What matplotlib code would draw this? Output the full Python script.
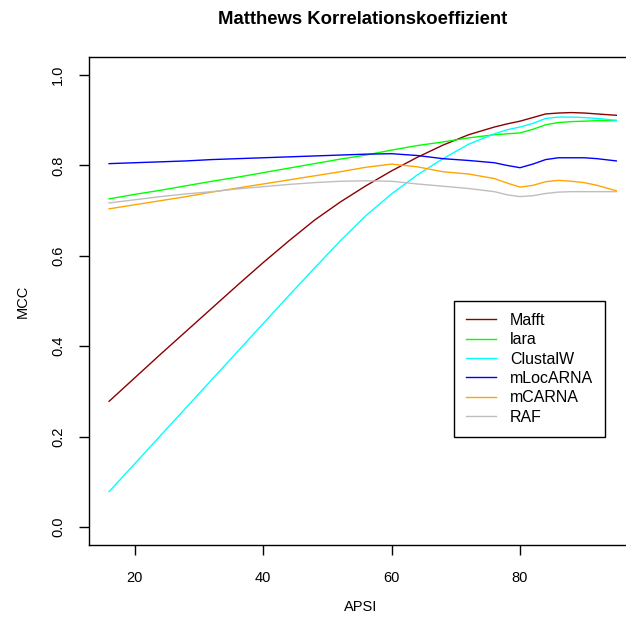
import matplotlib
matplotlib.use("Agg")
import matplotlib.pyplot as plt

# R-artige Schrift (Helvetica/Arial)
plt.rcParams["font.family"] = ["Liberation Sans", "DejaVu Sans"]

# APSI-Stützstellen
apsi = [16, 20, 24, 28, 32, 36, 40, 44, 48, 52, 56, 60, 64, 68, 72, 76,
        78, 80, 82, 84, 86, 88, 90, 92, 95]

mafft = [0.278, 0.330, 0.382, 0.433, 0.484, 0.535, 0.585, 0.633, 0.679, 0.719,
         0.755, 0.788, 0.818, 0.845, 0.868, 0.885, 0.892, 0.898, 0.906, 0.914,
         0.916, 0.917, 0.916, 0.914, 0.911]
lara = [0.726, 0.736, 0.745, 0.755, 0.765, 0.774, 0.784, 0.794, 0.804, 0.814,
        0.823, 0.834, 0.844, 0.852, 0.861, 0.868, 0.870, 0.872, 0.880, 0.890,
        0.895, 0.897, 0.898, 0.899, 0.899]
clustalw = [0.078, 0.140, 0.202, 0.264, 0.326, 0.388, 0.450, 0.512, 0.573, 0.633,
            0.689, 0.737, 0.779, 0.815, 0.847, 0.870, 0.879, 0.885, 0.893, 0.904,
            0.907, 0.907, 0.906, 0.904, 0.900]
mlocarna = [0.804, 0.806, 0.808, 0.810, 0.813, 0.815, 0.817, 0.819, 0.821, 0.823,
            0.825, 0.826, 0.822, 0.815, 0.811, 0.806, 0.800, 0.795, 0.803, 0.813,
            0.817, 0.817, 0.817, 0.815, 0.810]
mcarna = [0.704, 0.713, 0.722, 0.731, 0.741, 0.750, 0.759, 0.768, 0.777, 0.786,
          0.796, 0.803, 0.797, 0.786, 0.781, 0.771, 0.761, 0.752, 0.756, 0.764,
          0.767, 0.765, 0.762, 0.756, 0.744]
raf = [0.717, 0.724, 0.731, 0.737, 0.742, 0.748, 0.753, 0.758, 0.762, 0.765,
       0.766, 0.765, 0.759, 0.754, 0.749, 0.742, 0.735, 0.731, 0.733, 0.738,
       0.741, 0.742, 0.742, 0.742, 0.742]

namen = ["Mafft", "lara", "ClustalW", "mLocARNA", "mCARNA", "RAF"]
reihen = [mafft, lara, clustalw, mlocarna, mcarna, raf]
farben = ["#8B0000", "#00FF00", "#00FFFF", "#0000FF", "#FFA500", "#BEBEBE"]

x_ticks = [20, 40, 60, 80]
y_ticks = [0.0, 0.2, 0.4, 0.6, 0.8, 1.0]

W, H = 626, 619
fig = plt.figure(figsize=(W / 100, H / 100), dpi=100)
# Plotbereich wie in R (rechter Rand liegt ausserhalb des Bildes)
links, rechts, oben, unten = 88.8, 636.6, 57, 545
ax = fig.add_axes([links / W, 1 - unten / H, (rechts - links) / W, (unten - oben) / H])

for name, werte, farbe in zip(namen, reihen, farben):
    ax.plot(apsi, werte, color=farbe, lw=1.0, label=name)

# R: 4 % Erweiterung der Achsen
spanne = max(apsi) - min(apsi)
ax.set_xlim(min(apsi) - 0.04 * spanne, max(apsi) + 0.04 * spanne)
ax.set_ylim(-0.04, 1.04)

ax.set_xticks(x_ticks)
ax.set_xticklabels([str(t) for t in x_ticks])
ax.set_yticks(y_ticks)
ax.set_yticklabels([f"{t:.1f}" for t in y_ticks], rotation=90, va="center")

ax.tick_params(axis="both", direction="out", length=7, width=1, labelsize=10.5,
               color="black", labelcolor="black")
ax.tick_params(axis="x", pad=12)
ax.tick_params(axis="y", pad=10)

for s in ["left", "bottom", "top"]:
    ax.spines[s].set_linewidth(1)
    ax.spines[s].set_color("black")
ax.spines["right"].set_visible(False)

fig.text(363 / W, 1 - 20 / H, "Matthews Korrelationskoeffizient", ha="center",
         va="center", fontsize=13.3, fontweight="bold")
fig.text(361 / W, 1 - 607 / H, "APSI", ha="center", va="center", fontsize=10.5)
fig.text(23 / W, 1 - 301 / H, "MCC", ha="center", va="center", fontsize=10.5,
         rotation=90)

leg = ax.legend(loc="upper left", bbox_to_anchor=(454 / W, 1 - 301 / H),
                bbox_transform=fig.transFigure, fontsize=11.5, frameon=True,
                fancybox=False, framealpha=1, edgecolor="black",
                handlelength=1.9, handletextpad=0.87, labelspacing=0.27,
                borderpad=0.75, borderaxespad=0)
leg.get_frame().set_linewidth(1)

fig.savefig("out.png", dpi=100)
